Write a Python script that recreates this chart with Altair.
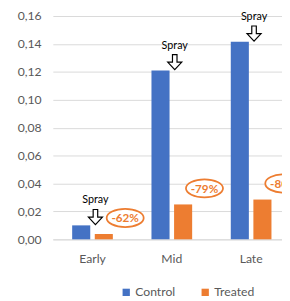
import altair as alt
import pandas as pd

categories = ["Early", "Mid", "Late"]
series = ["Control", "Treated"]
control = [0.0100, 0.1210, 0.1415]
treated = [0.0038, 0.0250, 0.0285]
reduction = ["-62%", "-79%", "-80%"]
spray_label = "Spray"
y_ticks = [0.00, 0.02, 0.04, 0.06, 0.08, 0.10, 0.12, 0.14, 0.16]
colors = ["#4472C4", "#ED7D31"]

FONT = "Lato"

bars_df = pd.DataFrame({
    "stage": categories * 2,
    "series": [series[0]] * 3 + [series[1]] * 3,
    "value": control + treated,
})
ann_df = pd.DataFrame({
    "stage": categories,
    "control": control,
    "treated": treated,
    "label": reduction,
    "spray": [spray_label] * 3,
})

x_scale = alt.Scale(range=[0, 244], paddingInner=0.487, paddingOuter=0.2435)
x_axis = alt.Axis(title=None, labelAngle=0, ticks=False, labelPadding=14,
                  domainColor="#d9d9d9", labelColor="#595959",
                  labelFontSize=12.5, labelFont=FONT)
y_scale = alt.Scale(domain=[0, 0.16], nice=False)
y_axis = alt.Axis(title=None, values=y_ticks, ticks=False, domain=False,
                  labelPadding=12, gridColor="#d9d9d9", labelOverlap=False,
                  labelColor="#595959", labelFontSize=12.5, labelFont=FONT,
                  labelExpr="replace(format(datum.value, '.2f'), '.', ',')")


def X():
    return alt.X("stage:N", sort=categories, scale=x_scale, axis=x_axis)


def Y(field):
    return alt.Y(field, scale=y_scale, axis=y_axis)


bars = alt.Chart(bars_df).mark_bar().encode(
    x=X(),
    xOffset=alt.XOffset("series:N", sort=series,
                        scale=alt.Scale(paddingInner=0.2, paddingOuter=0)),
    y=Y("value:Q"),
    color=alt.Color("series:N", sort=series,
                    scale=alt.Scale(domain=series, range=colors),
                    legend=alt.Legend(title=None, orient="none", direction="horizontal",
                                      legendX=69, legendY=277, symbolType="square",
                                      symbolSize=56, symbolStrokeWidth=0,
                                      labelOffset=3, columnPadding=24,
                                      labelFontSize=12.5, labelFont=FONT,
                                      labelColor="#595959")),
)

arrow_path = "M -0.3 -1 L 0.3 -1 L 0.3 0 L 0.93 0 L 0 1 L -0.93 0 L -0.3 0 Z"
arrows = alt.Chart(ann_df).mark_point(
    shape=arrow_path, size=240, filled=True, fill="white", stroke="black",
    strokeWidth=1.2, opacity=1, xOffset=3, yOffset=-8.5,
).encode(x=X(), y=Y("control:Q"))

spray = alt.Chart(ann_df).mark_text(
    font=FONT, fontSize=11, color="black", baseline="alphabetic",
    align="center", xOffset=3, yOffset=-22.5,
).encode(x=X(), y=Y("control:Q"), text="spray:N")

ellipse_path = "M -1 0 A 1 0.49 0 1 1 1 0 A 1 0.49 0 1 1 -1 0 Z"
ellipses = alt.Chart(ann_df).mark_point(
    shape=ellipse_path, size=1444, filled=True, fill="white", stroke="#ED7D31",
    strokeWidth=1.8, opacity=1, xOffset=33.5, yOffset=-16.5,
).encode(x=X(), y=Y("treated:Q"))

pct = alt.Chart(ann_df).mark_text(
    font=FONT, fontSize=12, fontWeight="bold", color="#ED7D31",
    baseline="middle", align="center", xOffset=33.5, yOffset=-16,
).encode(x=X(), y=Y("treated:Q"), text="label:N")

chart = alt.layer(bars, arrows, spray, ellipses, pct).properties(
    width=235, height=229,
    autosize=alt.AutoSizeParams(type="none"),
    padding={"left": 46, "top": 4.5, "right": 0, "bottom": 59},
).configure_view(stroke=None)

chart.save("out.html", embed_options={"renderer": "svg", "actions": False})
